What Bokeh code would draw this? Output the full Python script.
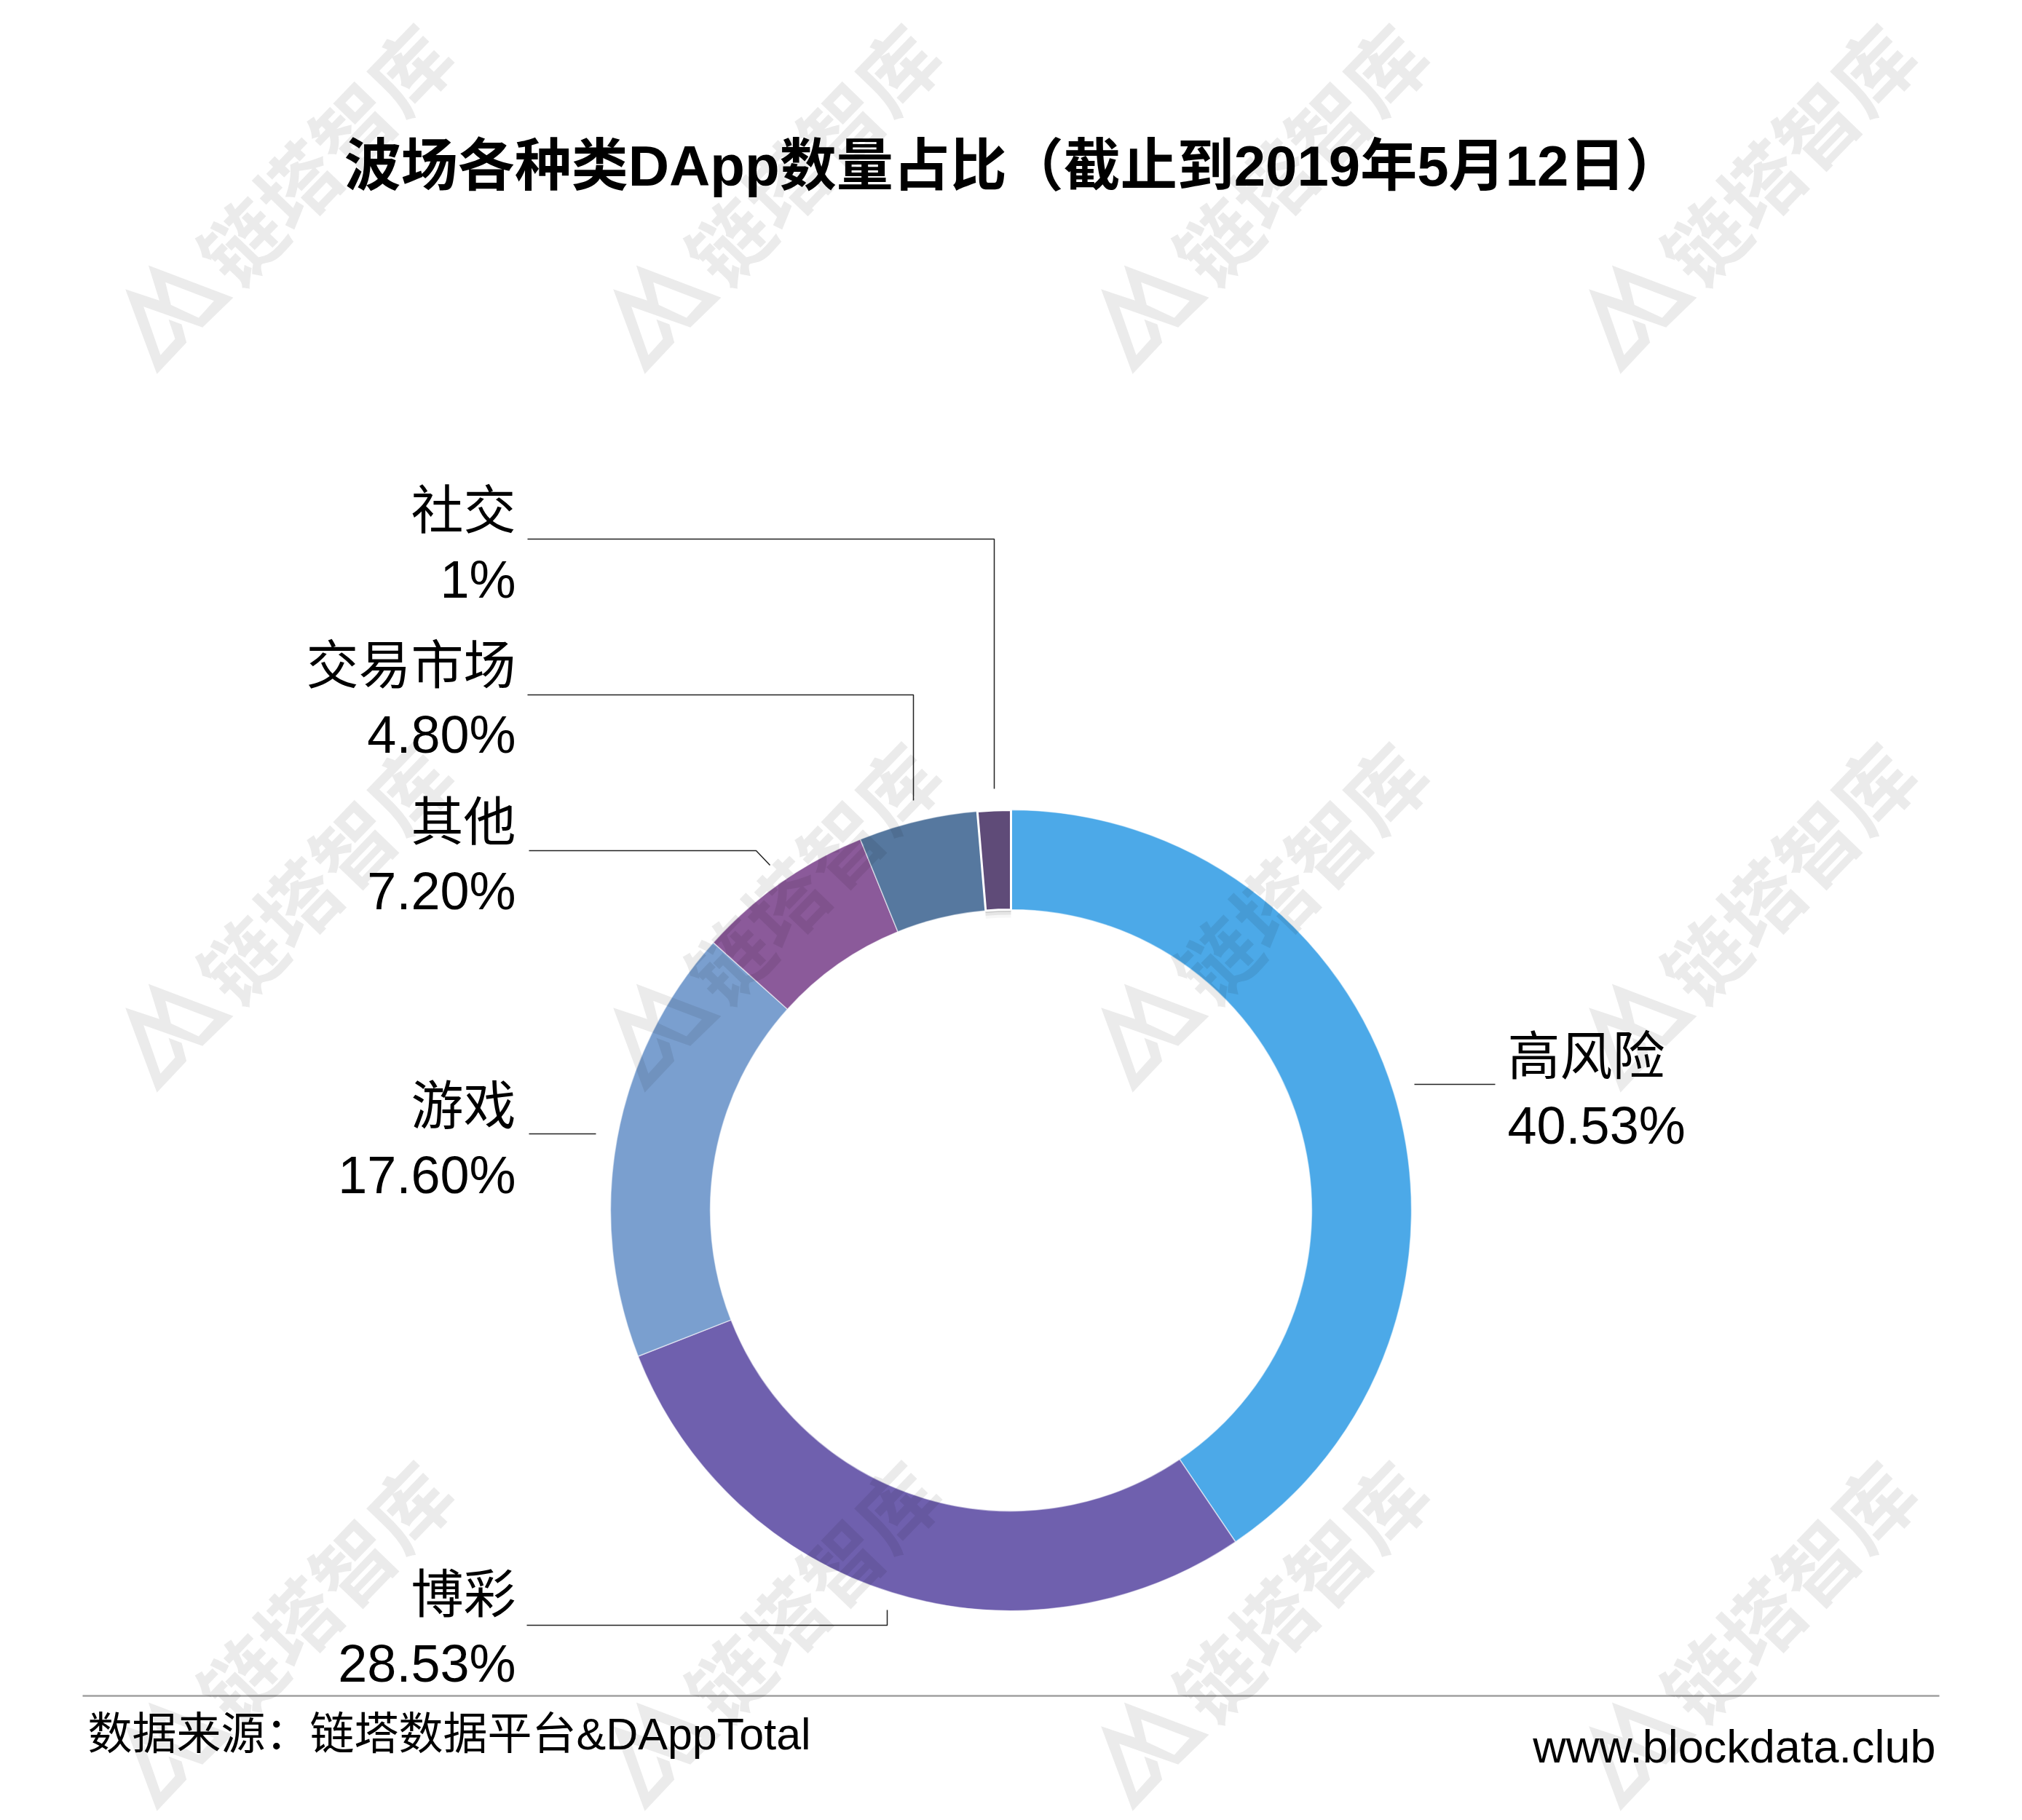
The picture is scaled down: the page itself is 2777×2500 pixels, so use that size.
from math import pi

from bokeh.core.properties import value
from bokeh.embed import file_html
from bokeh.plotting import figure
from bokeh.resources import INLINE

title = "波场各种类DApp数量占比（截止到2019年5月12日）"
source_note = "数据来源：链塔数据平台&DAppTotal"
site_note = "www.blockdata.club"
mark_text = "链塔智库"

categories = ["高风险", "博彩", "游戏", "其他", "交易市场", "社交"]
shares = [40.53, 28.53, 17.60, 7.20, 4.80, 1.34]
share_labels = ["40.53%", "28.53%", "17.60%", "7.20%", "4.80%", "1%"]
colors = ["#4ca9e8", "#6f60ae", "#7a9fcf", "#8b5a9a", "#56789f", "#5f4b78"]

W, H = 2777, 2500
FONT = value("'Liberation Sans', 'Noto Sans CJK SC'")
CJK_BOLD = value("'Noto Sans CJK SC'")


def flip(py):
    return H - py


p = figure(width=W, height=H, x_range=(0, W), y_range=(0, H),
           output_backend="svg", toolbar_location=None,
           x_axis_location=None, y_axis_location=None, min_border=0)
p.grid.visible = False
p.outline_line_color = None
p.background_fill_color = "white"
p.border_fill_color = "white"

# ring, clockwise from twelve o'clock
cx, cy, r_in, r_out = 1388, flip(1662), 413, 550
starts, ends = [], []
total = 0
for s in shares:
    starts.append(pi / 2 - total / 100 * 2 * pi)
    total += s
    ends.append(pi / 2 - total / 100 * 2 * pi)

# soft shadow under the pulled-up last slice
for off, a in [(3, 0.12), (7, 0.07), (11, 0.03)]:
    p.annular_wedge(x=cx, y=cy - off, inner_radius=r_in, outer_radius=r_in + 10,
                    start_angle=starts[-1], end_angle=ends[-1], direction="clock",
                    fill_color="black", fill_alpha=a, line_color=None)

for i in range(len(shares)):
    last = i == len(shares) - 1
    p.annular_wedge(x=cx, y=cy, inner_radius=r_in, outer_radius=r_out,
                    start_angle=starts[i], end_angle=ends[i], direction="clock",
                    fill_color=colors[i], line_color="white",
                    line_alpha=1.0 if last else 0.55, line_width=3 if last else 1.5)

# leader lines, same order as categories
leaders = [
    ([1942, 2053], [1489, 1489]),
    ([723, 1218, 1218], [2232, 2232, 2211]),
    ([726, 818], [1557, 1557]),
    ([726, 1038, 1057], [1168, 1168, 1188]),
    ([724, 1254, 1254], [954, 954, 1099]),
    ([724, 1365, 1365], [740, 740, 1083]),
]
for xs, ys in leaders:
    p.line(x=xs, y=[flip(v) for v in ys], line_color="#222222", line_width=1.5)

# label anchors: x, baseline of the name, baseline of the share
anchors = [
    (2070, 1450, 1545, "left"),
    (708, 2189, 2284, "right"),
    (708, 1518, 1613, "right"),
    (708, 1128, 1223, "right"),
    (708, 913, 1008, "right"),
    (708, 700, 795, "right"),
]
for i, (ax, y1, y2, align) in enumerate(anchors):
    p.text(x=[ax, ax], y=[flip(y1), flip(y2)], text=[categories[i], share_labels[i]],
           text_font=FONT, text_font_size="72px", text_color="black",
           text_align=align, text_baseline="alphabetic")

p.text(x=[1391], y=[flip(227)], text=[title], text_font=FONT, text_font_size="78px",
       text_font_style="bold", text_color="black", text_align="center", text_baseline="alphabetic")

p.line(x=[113, 2663], y=[flip(2329), flip(2329)], line_color="#a0a0a0", line_width=2.5)
p.text(x=[120], y=[flip(2381)], text=[source_note], text_font=FONT, text_font_size="61px",
       text_color="black", text_align="left", text_baseline="alphabetic")
p.text(x=[2658], y=[flip(2398)], text=[site_note], text_font=FONT, text_font_size="63px",
       text_color="black", text_align="right", text_baseline="alphabetic")

# watermark tiled over everything
logo_outer = [(115, 42), (465, 175), (338, 298), (95, 212), (165, 412), (225, 345), (198, 265),
              (252, 285), (272, 360), (150, 490), (20, 140), (160, 187)]
logo_hole = [(185, 112), (385, 188), (322, 258), (208, 205)]
for row in range(3):
    for col in range(4):
        ox, oy = 165 + col * 670, 350 + row * 987
        outer_x = [ox + q[0] / 3 for q in logo_outer]
        outer_y = [flip(oy + q[1] / 3) for q in logo_outer]
        hole_x = [ox + q[0] / 3 for q in logo_hole]
        hole_y = [flip(oy + q[1] / 3) for q in logo_hole]
        p.multi_polygons(xs=[[[outer_x, hole_x]]], ys=[[[outer_y, hole_y]]],
                         fill_color="black", fill_alpha=0.08, line_color=None)
        p.text(x=[443 + col * 670], y=[flip(210 + row * 987)], text=[mark_text], angle=46 * pi / 180,
               text_font=CJK_BOLD, text_font_size="110px", text_font_style="bold",
               text_color="black", text_alpha=0.08, text_align="center", text_baseline="middle")

open("out.html", "w").write(file_html(p, INLINE))
